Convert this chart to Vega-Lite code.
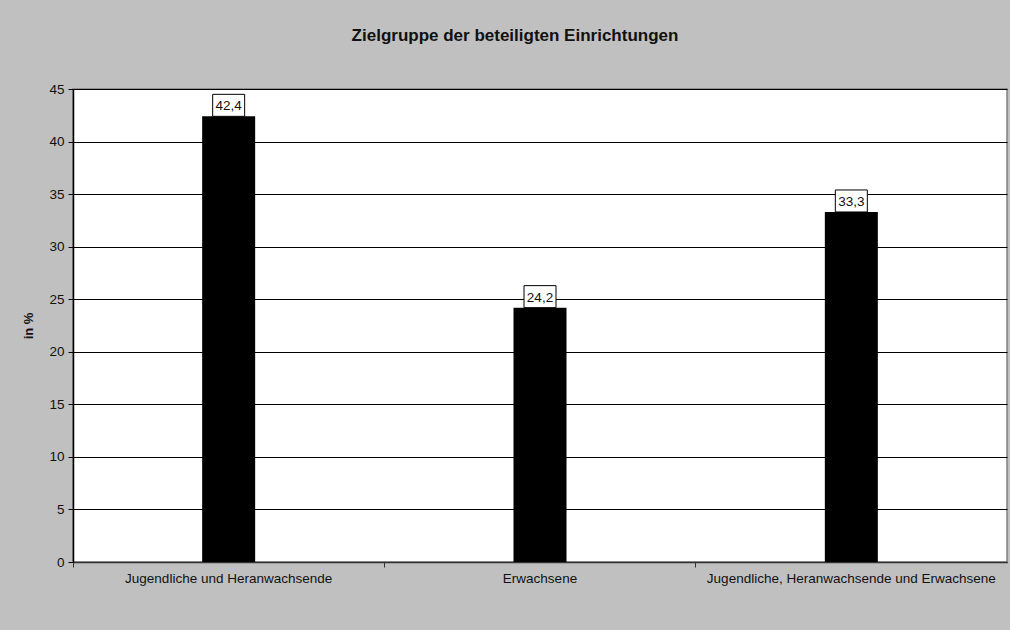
{
  "$schema": "https://vega.github.io/schema/vega-lite/v6.json",
  "autosize": "none",
  "width": 934,
  "height": 473,
  "padding": {"left": 73, "top": 89, "right": 3, "bottom": 68},
  "background": "#C0C0C0",
  "config": {
    "font": "Liberation Sans",
    "view": {"fill": "white", "stroke": "#808080", "strokeWidth": 1.5}
  },
  "title": {
    "text": "Zielgruppe der beteiligten Einrichtungen",
    "fontSize": 17,
    "fontWeight": "bold",
    "color": "#111",
    "anchor": "middle",
    "dx": -25,
    "offset": 37
  },
  "data": {
    "values": [
      {"gruppe": "Jugendliche und Heranwachsende", "wert": 42.4, "label": "42,4"},
      {"gruppe": "Erwachsene", "wert": 24.2, "label": "24,2"},
      {"gruppe": "Jugendliche, Heranwachsende und Erwachsene", "wert": 33.3, "label": "33,3"}
    ]
  },
  "encoding": {
    "x": {
      "field": "gruppe",
      "type": "nominal",
      "sort": null,
      "scale": {"paddingInner": 0, "paddingOuter": 0},
      "axis": {
        "title": null,
        "labelAngle": 0,
        "labelFontSize": 13.5,
        "labelColor": "#111",
        "labelPadding": 4,
        "labelLimit": 0,
        "bandPosition": 0,
        "tickSize": 5,
        "tickColor": "#333",
        "domainColor": "#333",
        "domainWidth": 1.5,
        "grid": false
      }
    },
    "y": {
      "field": "wert",
      "type": "quantitative",
      "scale": {"domain": [0, 45], "nice": false},
      "axis": {
        "title": "in %",
        "titleFontSize": 13,
        "titleFontWeight": "bold",
        "titleColor": "#111",
        "titlePadding": 13,
        "values": [0, 5, 10, 15, 20, 25, 30, 35, 40, 45],
        "labelFontSize": 13.5,
        "labelColor": "#111",
        "labelPadding": 4,
        "tickSize": 5,
        "tickColor": "#000",
        "domainColor": "#000",
        "domainWidth": 1.5,
        "gridColor": "#000",
        "gridOpacity": 1,
        "gridWidth": 1
      }
    }
  },
  "layer": [
    {"mark": {"type": "bar", "color": "black", "size": 53}},
    {
      "mark": {
        "type": "point",
        "shape": "M-1.6,-1.1H1.6V1.1H-1.6Z",
        "size": 400,
        "filled": true,
        "fill": "white",
        "stroke": "black",
        "strokeWidth": 1,
        "opacity": 1,
        "yOffset": -11
      }
    },
    {
      "mark": {
        "type": "text",
        "fontSize": 13.5,
        "color": "#111",
        "baseline": "middle",
        "align": "center",
        "yOffset": -10
      },
      "encoding": {"text": {"field": "label"}}
    }
  ]
}
